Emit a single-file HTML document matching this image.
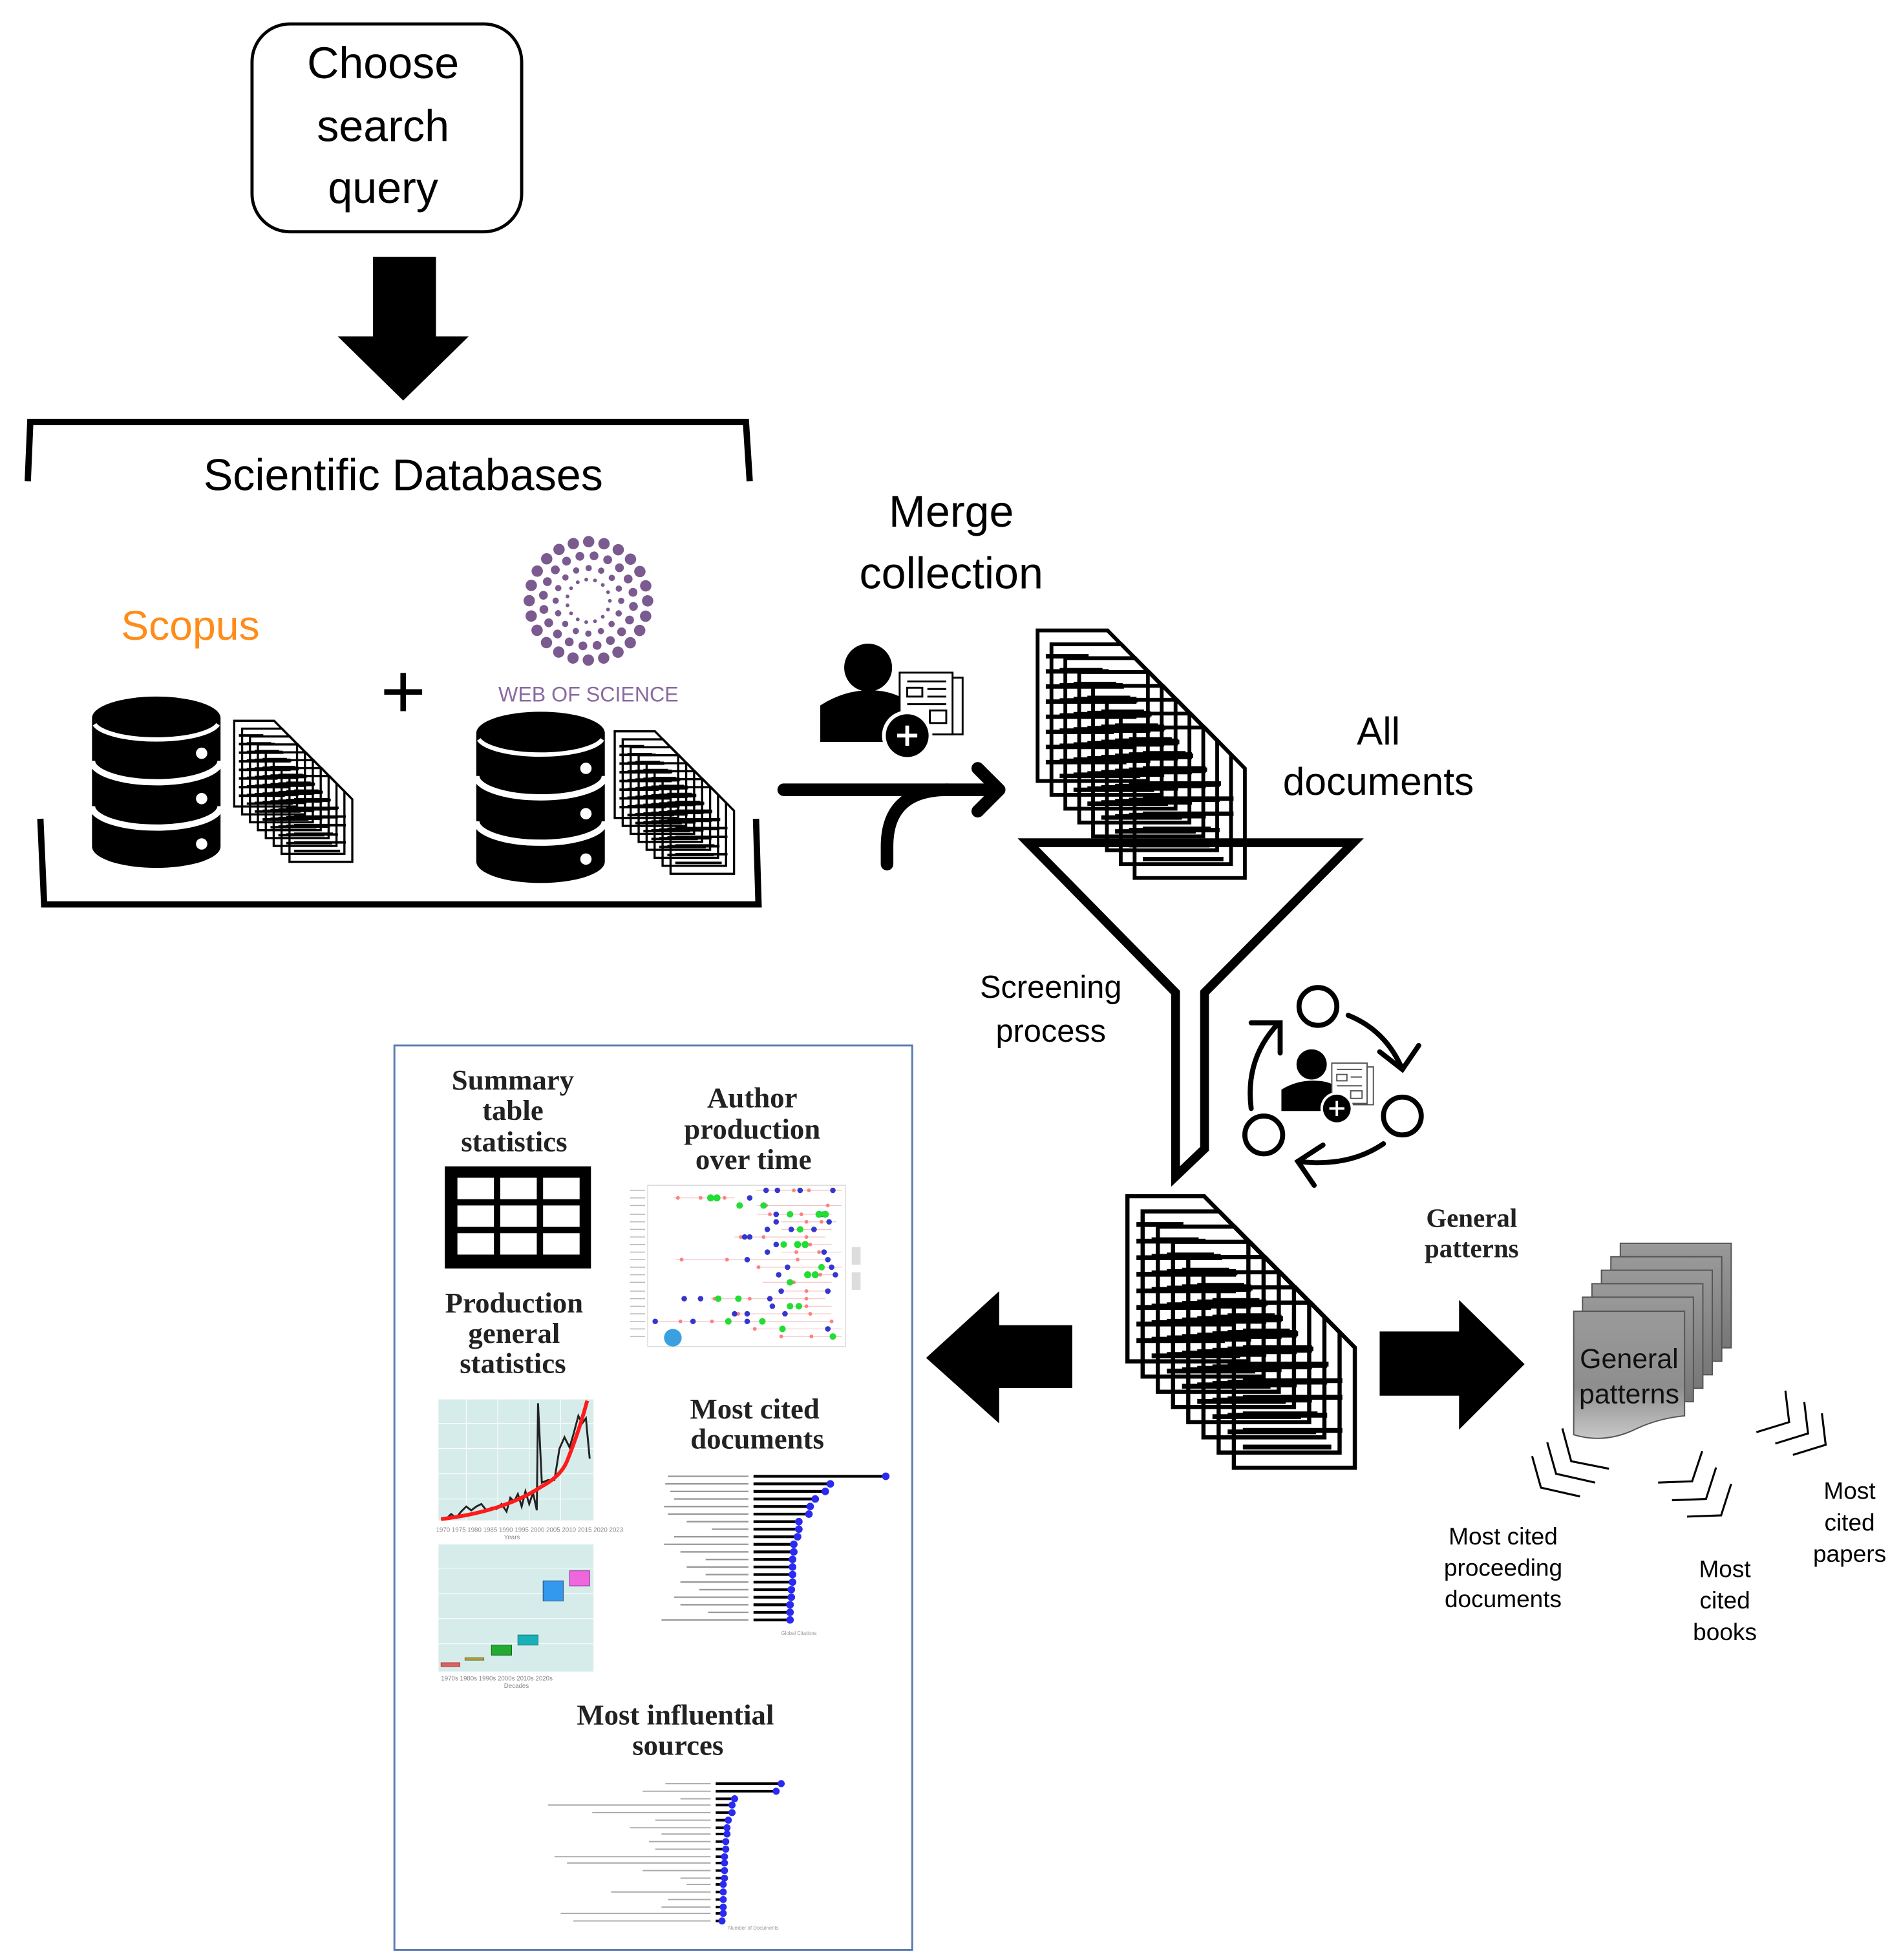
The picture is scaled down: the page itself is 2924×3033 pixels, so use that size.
<!DOCTYPE html>
<html><head><meta charset="utf-8"><style>
html,body{margin:0;padding:0;background:#fff;}
svg{display:block;}
.c{font-family:"Liberation Sans",sans-serif;}
.s{font-family:"Liberation Serif",serif;font-weight:bold;fill:#222;}
</style></head><body>
<svg width="2924" height="3033" viewBox="0 0 1500 1556" xmlns="http://www.w3.org/2000/svg">
<defs>
<symbol id="pg" viewBox="0 0 92 124" overflow="visible">
<path d="M1.5,1.5 H57 L89,34 V121 H1.5 Z" fill="none" stroke="#000" stroke-width="3"/>
<g stroke="#000" stroke-width="3.5">
<line x1="8" y1="22" x2="42" y2="22"/><line x1="8" y1="34" x2="58" y2="34"/>
<line x1="8" y1="46" x2="70" y2="46"/><line x1="8" y1="58" x2="80" y2="58"/>
<line x1="8" y1="70" x2="80" y2="70"/><line x1="8" y1="82" x2="62" y2="82"/>
<line x1="8" y1="94" x2="80" y2="94"/><line x1="8" y1="106" x2="72" y2="106"/>
</g></symbol>
<symbol id="stack" viewBox="0 0 172 206" overflow="visible">
<use href="#pg" x="0" y="0" width="92" height="124"/>
<use href="#pg" x="11" y="11" width="92" height="124"/>
<use href="#pg" x="22" y="22" width="92" height="124"/>
<use href="#pg" x="33" y="33" width="92" height="124"/>
<use href="#pg" x="44" y="44" width="92" height="124"/>
<use href="#pg" x="55" y="55" width="92" height="124"/>
<use href="#pg" x="66" y="66" width="92" height="124"/>
<use href="#pg" x="77" y="77" width="92" height="124"/>
</symbol>
<linearGradient id="gg" x1="0" y1="0" x2="0" y2="1"><stop offset="0" stop-color="#999"/><stop offset="1" stop-color="#777"/></linearGradient>
<linearGradient id="gf" x1="0" y1="0" x2="0" y2="1"><stop offset="0" stop-color="#9a9a9a"/><stop offset="0.6" stop-color="#8e8e8e"/><stop offset="1" stop-color="#c8c8c8"/></linearGradient>
</defs>

<rect x="200" y="19" width="214" height="165" rx="30" fill="#fff" stroke="#000" stroke-width="2.5"/>
<g class="c" font-size="35" text-anchor="middle" fill="#000">
<text x="304" y="62">Choose</text><text x="304" y="112">search</text><text x="304" y="161">query</text>
</g>
<polygon points="296,204 346,204 346,267 372,267 320,318 268,267 296,267" fill="#000"/>

<path d="M22,382 L24,335 L592,335 L595,382" fill="none" stroke="#000" stroke-width="5"/>
<path d="M32,650 L35,718 L602,718 L600,650" fill="none" stroke="#000" stroke-width="5"/>
<text class="c" x="320" y="389" font-size="35" text-anchor="middle">Scientific Databases</text>
<text class="c" x="96" y="508" font-size="33" fill="#ff8c1a">Scopus</text>
<text class="c" x="320" y="570" font-size="62" text-anchor="middle">+</text>

<g fill="none" stroke="#7b5a90" stroke-linecap="round">
<circle cx="467" cy="477" r="47" stroke-width="9" stroke-dasharray="0.01 12.3"/>
<circle cx="467" cy="477" r="36" stroke-width="7" stroke-dasharray="0.01 11.3" transform="rotate(7 467 477)"/>
<circle cx="467" cy="477" r="26" stroke-width="5" stroke-dasharray="0.01 10.2"/>
<circle cx="467" cy="477" r="17" stroke-width="3" stroke-dasharray="0.01 7.1"/>
</g>
<text x="467" y="557" font-family="Liberation Sans,sans-serif" font-size="16.5" fill="#8a6aa0" text-anchor="middle">WEB OF SCIENCE</text>

<g>
<path d="M73,570 A51,17 0 0 1 175,570 V672 A51,17 0 0 1 73,672 Z" fill="#000"/>
<path d="M75,575 A50,15 0 0 0 173,575" fill="none" stroke="#fff" stroke-width="3.5"/>
<path d="M73,604 A51,17 0 0 0 175,604" fill="none" stroke="#fff" stroke-width="5"/>
<path d="M73,640 A51,17 0 0 0 175,640" fill="none" stroke="#fff" stroke-width="5"/>
<circle cx="160" cy="598" r="4.5" fill="#fff"/><circle cx="160" cy="634" r="4.5" fill="#fff"/><circle cx="160" cy="670" r="4.5" fill="#fff"/>
</g>
<g transform="translate(305,12)">
<path d="M73,570 A51,17 0 0 1 175,570 V672 A51,17 0 0 1 73,672 Z" fill="#000"/>
<path d="M75,575 A50,15 0 0 0 173,575" fill="none" stroke="#fff" stroke-width="3.5"/>
<path d="M73,604 A51,17 0 0 0 175,604" fill="none" stroke="#fff" stroke-width="5"/>
<path d="M73,640 A51,17 0 0 0 175,640" fill="none" stroke="#fff" stroke-width="5"/>
<circle cx="160" cy="598" r="4.5" fill="#fff"/><circle cx="160" cy="634" r="4.5" fill="#fff"/><circle cx="160" cy="670" r="4.5" fill="#fff"/>
</g>
<use href="#stack" x="185" y="570" width="98" height="120"/>
<use href="#stack" x="487" y="578" width="99" height="122"/>

<g class="c" font-size="35" text-anchor="middle">
<text x="755" y="418">Merge</text><text x="755" y="467">collection</text>
</g>
<circle cx="689" cy="530" r="19" fill="#000"/>
<path d="M651,589 V560 Q670,548 690,548 Q705,548 716,554 L716,589 Z" fill="#000"/>
<rect x="722" y="538" width="42" height="45" fill="#fff" stroke="#000" stroke-width="1.5"/>
<rect x="714" y="534" width="42" height="49" fill="#fff" stroke="#000" stroke-width="1.5"/>
<g stroke="#000" stroke-width="1.5" fill="none"><line x1="720" y1="541" x2="751" y2="541"/><rect x="720" y="546" width="12" height="7"/><line x1="736" y1="547" x2="751" y2="547"/><line x1="736" y1="553" x2="751" y2="553"/><line x1="720" y1="559" x2="751" y2="559"/><rect x="738" y="564" width="13" height="10"/></g>
<circle cx="720" cy="584" r="20" fill="#fff"/>
<circle cx="720" cy="584" r="17" fill="#000"/>
<path d="M720,576 V592 M712,584 H728" stroke="#fff" stroke-width="3"/>
<g fill="none" stroke="#000" stroke-width="10" stroke-linecap="round">
<line x1="622" y1="627" x2="790" y2="627"/>
<path d="M776,610 L793,627 L776,644" stroke-linejoin="round"/>
<path d="M704,686 V672 Q704,627 752,627"/>
</g>

<use href="#stack" x="822" y="499" width="172" height="206"/>
<g class="c" font-size="31" text-anchor="middle"><text x="1094" y="591">All</text><text x="1094" y="631">documents</text></g>

<path d="M816,669 L1074,669 L956,788 L956,912 L933,934 L933,788 Z" fill="none" stroke="#000" stroke-width="7" stroke-linejoin="miter"/>
<g class="c" font-size="25" text-anchor="middle"><text x="834" y="792">Screening</text><text x="834" y="827">process</text></g>

<g fill="none" stroke="#000" stroke-width="4">
<circle cx="1046" cy="799" r="15"/><circle cx="1113" cy="886" r="15"/><circle cx="1003" cy="901" r="15"/>
<path d="M1070,806 Q1100,818 1113,849" stroke-linecap="round"/>
<path d="M1095,835 L1113,849 L1126,830" stroke-linecap="round"/>
<path d="M1098,908 Q1070,927 1030,922" stroke-linecap="round"/>
<path d="M1050,909 L1030,922 L1043,941" stroke-linecap="round"/>
<path d="M993,880 Q988,840 1015,812" stroke-linecap="round"/>
<path d="M993,812 L1016,812 L1016,836" stroke-linecap="round"/>
</g>
<circle cx="1041" cy="845" r="12" fill="#000"/>
<path d="M1017,882 V865 Q1030,857 1045,858 Q1052,858 1058,861 V882 Z" fill="#000"/>
<rect x="1062" y="847" width="28" height="30" fill="#fff" stroke="#555" stroke-width="1"/>
<rect x="1057" y="844" width="28" height="32" fill="#fff" stroke="#555" stroke-width="1"/>
<g stroke="#555" stroke-width="1" fill="none"><line x1="1061" y1="849" x2="1081" y2="849"/><rect x="1061" y="853" width="8" height="5"/><line x1="1072" y1="855" x2="1081" y2="855"/><line x1="1061" y1="862" x2="1081" y2="862"/><rect x="1072" y="866" width="9" height="6"/></g>
<circle cx="1061" cy="880" r="13" fill="#fff"/><circle cx="1061" cy="880" r="11" fill="#000"/>
<path d="M1061,874 V886 M1055,880 H1067" stroke="#fff" stroke-width="2"/>

<use href="#stack" x="893" y="948" width="189" height="226"/>

<polygon points="851,1052 851,1102 793,1102 793,1130 735,1078 793,1025 793,1052" fill="#000"/>
<polygon points="1095,1057 1158,1057 1158,1032 1210,1083 1158,1135 1158,1108 1095,1108" fill="#000"/>
<g class="s" font-size="21" text-anchor="middle" fill="#333"><text x="1168" y="974">General</text><text x="1168" y="998">patterns</text></g>

<g stroke="#555" stroke-width="1" fill="url(#gg)">
<rect x="1286" y="987" width="88" height="83"/>
<rect x="1278.5" y="997.7" width="88" height="83"/>
<rect x="1271" y="1008.4" width="88" height="83"/>
<rect x="1263.5" y="1019.1" width="88" height="83"/>
<rect x="1256" y="1029.8" width="88" height="83"/>
<path d="M1249,1041 H1337 V1124 Q1315,1126 1295,1136 Q1272,1146 1249,1139 Z" fill="url(#gf)"/>
</g>
<g class="c" font-size="22" text-anchor="middle" fill="#111"><text x="1293" y="1086">General</text><text x="1293" y="1114">patterns</text></g>

<g fill="none" stroke="#000" stroke-width="1.6">
<path d="M1240,1134 L1247,1160 L1277,1166"/><path d="M1228,1145 L1235,1170 L1266,1177"/><path d="M1216,1156 L1223,1181 L1254,1188"/>
<path d="M1351,1152 L1343,1176 L1316,1177"/><path d="M1362,1165 L1354,1190 L1327,1191"/><path d="M1374,1178 L1366,1203 L1339,1204"/>
<path d="M1417,1104 L1420,1129 L1394,1137"/><path d="M1432,1113 L1435,1138 L1409,1146"/><path d="M1446,1122 L1449,1147 L1423,1155"/>
</g>
<g class="c" font-size="19" text-anchor="middle">
<text x="1193" y="1226">Most cited</text><text x="1193" y="1251">proceeding</text><text x="1193" y="1276">documents</text>
<text x="1369" y="1252">Most</text><text x="1369" y="1277">cited</text><text x="1369" y="1302">books</text>
<text x="1468" y="1190">Most</text><text x="1468" y="1215">cited</text><text x="1468" y="1240">papers</text>
</g>

<rect x="313" y="830" width="411" height="718" fill="#fff" stroke="#5a7bb0" stroke-width="1.5"/>
<g class="s" font-size="23" text-anchor="middle">
<text x="407" y="865">Summary</text><text x="407" y="889">table</text><text x="408" y="914">statistics</text>
<text x="597" y="879">Author</text><text x="597" y="904">production</text><text x="598" y="928">over time</text>
<text x="408" y="1042">Production</text><text x="408" y="1066">general</text><text x="407" y="1090">statistics</text>
<text x="599" y="1126">Most cited</text><text x="601" y="1150">documents</text>
<text x="536" y="1369">Most influential</text><text x="538" y="1393">sources</text>
</g>
<rect x="353" y="926" width="116" height="81" fill="#000"/>
<g fill="#fff">
<rect x="363" y="935" width="29" height="17"/><rect x="397" y="935" width="29" height="17"/><rect x="431" y="935" width="29" height="17"/>
<rect x="363" y="957" width="29" height="17"/><rect x="397" y="957" width="29" height="17"/><rect x="431" y="957" width="29" height="17"/>
<rect x="363" y="979" width="29" height="17"/><rect x="397" y="979" width="29" height="17"/><rect x="431" y="979" width="29" height="17"/>
</g>

<rect x="514" y="941" width="157" height="128" fill="none" stroke="#ddd" stroke-width="0.8"/>
<g stroke="#f3c4c4" stroke-width="0.6">
<line x1="600" y1="945" x2="668" y2="945"/><line x1="534" y1="951" x2="583" y2="951"/><line x1="601" y1="957" x2="668" y2="957"/><line x1="601" y1="964" x2="660" y2="964"/><line x1="620" y1="970" x2="664" y2="970"/><line x1="620" y1="976" x2="660" y2="976"/><line x1="583" y1="982" x2="655" y2="982"/><line x1="630" y1="988" x2="660" y2="988"/><line x1="620" y1="994" x2="668" y2="994"/><line x1="536" y1="1000" x2="660" y2="1000"/><line x1="600" y1="1006" x2="668" y2="1006"/><line x1="640" y1="1012" x2="664" y2="1012"/><line x1="605" y1="1018" x2="660" y2="1018"/><line x1="620" y1="1025" x2="660" y2="1025"/><line x1="564" y1="1031" x2="655" y2="1031"/><line x1="630" y1="1037" x2="660" y2="1037"/><line x1="588" y1="1043" x2="660" y2="1043"/><line x1="520" y1="1049" x2="660" y2="1049"/><line x1="595" y1="1055" x2="668" y2="1055"/><line x1="620" y1="1061" x2="668" y2="1061"/>
</g>
<g fill="#ff8080">
<circle cx="630" cy="945" r="1.5"/><circle cx="642" cy="945" r="1.5"/><circle cx="538" cy="951" r="1.5"/><circle cx="556" cy="951" r="1.5"/><circle cx="575" cy="951" r="1.5"/><circle cx="608" cy="957" r="1.5"/><circle cx="657" cy="957" r="1.5"/><circle cx="611" cy="964" r="1.5"/><circle cx="636" cy="964" r="1.5"/><circle cx="640" cy="970" r="1.5"/><circle cx="652" cy="970" r="1.5"/><circle cx="647" cy="976" r="1.5"/><circle cx="588" cy="982" r="1.5"/><circle cx="606" cy="982" r="1.5"/><circle cx="640" cy="982" r="1.5"/><circle cx="643" cy="988" r="1.5"/><circle cx="632" cy="994" r="1.5"/><circle cx="650" cy="994" r="1.5"/><circle cx="541" cy="1000" r="1.5"/><circle cx="577" cy="1000" r="1.5"/><circle cx="633" cy="1000" r="1.5"/><circle cx="602" cy="1006" r="1.5"/><circle cx="660" cy="1006" r="1.5"/><circle cx="651" cy="1012" r="1.5"/><circle cx="630" cy="1018" r="1.5"/><circle cx="620" cy="1025" r="1.5"/><circle cx="640" cy="1025" r="1.5"/><circle cx="567" cy="1031" r="1.5"/><circle cx="595" cy="1031" r="1.5"/><circle cx="640" cy="1031" r="1.5"/><circle cx="640" cy="1037" r="1.5"/><circle cx="586" cy="1043" r="1.5"/><circle cx="643" cy="1043" r="1.5"/><circle cx="540" cy="1049" r="1.5"/><circle cx="565" cy="1049" r="1.5"/><circle cx="660" cy="1049" r="1.5"/><circle cx="599" cy="1055" r="1.5"/><circle cx="620" cy="1061" r="1.5"/><circle cx="644" cy="1061" r="1.5"/>
</g>
<g fill="#3535d0">
<circle cx="608" cy="945" r="2.2"/><circle cx="617" cy="945" r="2.2"/><circle cx="635" cy="945" r="2.2"/><circle cx="661" cy="945" r="2.2"/><circle cx="595" cy="951" r="2.2"/><circle cx="616" cy="964" r="2.2"/><circle cx="653" cy="964" r="2.2"/><circle cx="616" cy="970" r="2.2"/><circle cx="658" cy="970" r="2.2"/><circle cx="609" cy="976" r="2.2"/><circle cx="628" cy="976" r="2.2"/><circle cx="646" cy="976" r="2.2"/><circle cx="591" cy="982" r="2.2"/><circle cx="595" cy="982" r="2.2"/><circle cx="616" cy="988" r="2.2"/><circle cx="609" cy="994" r="2.2"/><circle cx="654" cy="994" r="2.2"/><circle cx="593" cy="1000" r="2.2"/><circle cx="657" cy="1000" r="2.2"/><circle cx="625" cy="1006" r="2.2"/><circle cx="660" cy="1006" r="2.2"/><circle cx="618" cy="1012" r="2.2"/><circle cx="663" cy="1012" r="2.2"/><circle cx="620" cy="1025" r="2.2"/><circle cx="657" cy="1025" r="2.2"/><circle cx="543" cy="1031" r="2.2"/><circle cx="556" cy="1031" r="2.2"/><circle cx="611" cy="1031" r="2.2"/><circle cx="613" cy="1037" r="2.2"/><circle cx="583" cy="1043" r="2.2"/><circle cx="593" cy="1043" r="2.2"/><circle cx="623" cy="1043" r="2.2"/><circle cx="520" cy="1049" r="2.2"/><circle cx="550" cy="1049" r="2.2"/><circle cx="593" cy="1049" r="2.2"/><circle cx="657" cy="1055" r="2.2"/>
</g>
<g fill="#22dd33">
<circle cx="564" cy="951" r="2.8"/><circle cx="569" cy="951" r="2.8"/><circle cx="587" cy="957" r="2.6"/><circle cx="606" cy="957" r="2.6"/><circle cx="627" cy="964" r="2.6"/><circle cx="655" cy="964" r="2.8"/><circle cx="650" cy="964" r="2.8"/><circle cx="635" cy="976" r="2.6"/><circle cx="622" cy="988" r="2.6"/><circle cx="633" cy="988" r="2.8"/><circle cx="639" cy="988" r="2.8"/><circle cx="652" cy="1006" r="2.6"/><circle cx="641" cy="1012" r="2.8"/><circle cx="647" cy="1012" r="2.8"/><circle cx="627" cy="1018" r="2.6"/><circle cx="570" cy="1031" r="2.6"/><circle cx="586" cy="1031" r="2.6"/><circle cx="627" cy="1037" r="2.6"/><circle cx="634" cy="1037" r="2.6"/><circle cx="578" cy="1049" r="2.6"/><circle cx="605" cy="1049" r="2.6"/><circle cx="621" cy="1055" r="2.6"/><circle cx="661" cy="1061" r="2.6"/>
</g>
<g stroke="#bbb" stroke-width="0.8"><path d="M500,945 H512 M500,951 H512 M500,957 H512 M500,964 H512 M500,970 H512 M500,976 H512 M500,982 H512 M500,988 H512 M500,994 H512 M500,1000 H512 M500,1006 H512 M500,1012 H512 M500,1018 H512 M500,1025 H512 M500,1031 H512 M500,1037 H512 M500,1043 H512 M500,1049 H512 M500,1055 H512 M500,1061 H512"/></g>
<circle cx="534" cy="1062" r="7" fill="#3aa0e0"/>
<g fill="#ddd"><rect x="676" y="990" width="7" height="14"/><rect x="676" y="1010" width="7" height="14"/></g>

<rect x="348" y="1111" width="123" height="96" fill="#d6eceb"/>
<g stroke="#fff" stroke-width="0.5"><path d="M348,1130 H471 M348,1150 H471 M348,1170 H471 M348,1190 H471 M370,1111 V1207 M395,1111 V1207 M420,1111 V1207 M445,1111 V1207"/></g>
<polyline fill="none" stroke="#222" stroke-width="1.5" points="350,1206 355,1205 358,1202 362,1205 366,1200 370,1196 374,1199 378,1196 382,1194 386,1199 390,1197 394,1198 398,1194 402,1200 405,1189 408,1192 411,1186 414,1196 417,1184 420,1194 423,1185 426,1199 427,1114 430,1177 435,1175 440,1175 444,1150 448,1141 452,1149 455,1139 459,1124 462,1130 465,1126 468,1158"/>
<path d="M350,1206 Q400,1200 430,1180 Q445,1172 450,1160 Q460,1135 466,1112" fill="none" stroke="#ff1a1a" stroke-width="3"/>
<g fill="#888" font-size="5" font-family="Liberation Sans,sans-serif"><text x="346" y="1216">1970 1975 1980 1985 1990 1995 2000 2005 2010 2015 2020 2023</text><text x="400" y="1222">Years</text></g>
<rect x="348" y="1226" width="123" height="101" fill="#d6eceb"/>
<g stroke="#fff" stroke-width="0.5"><path d="M348,1245 H471 M348,1265 H471 M348,1285 H471 M348,1305 H471"/></g>
<rect x="350" y="1320" width="15" height="3" fill="#e06060" stroke="#a33" stroke-width="0.5"/>
<rect x="369" y="1316" width="15" height="2" fill="#b5a030" stroke="#663" stroke-width="0.5"/>
<rect x="390" y="1306" width="16" height="8" fill="#22aa33" stroke="#161" stroke-width="0.5"/>
<rect x="411" y="1298" width="16" height="8" fill="#1ab0b8" stroke="#177" stroke-width="0.5"/>
<rect x="431" y="1255" width="16" height="16" fill="#3399ee" stroke="#247" stroke-width="0.5"/>
<rect x="452" y="1247" width="16" height="12" fill="#f066dd" stroke="#839" stroke-width="0.5"/>
<g fill="#888" font-size="5" font-family="Liberation Sans,sans-serif"><text x="350" y="1334">1970s   1980s   1990s   2000s   2010s   2020s</text><text x="400" y="1340">Decades</text></g>

<g stroke="#000" stroke-width="2.2">
<line x1="598" y1="1172" x2="703" y2="1172"/><line x1="598" y1="1178" x2="659" y2="1178"/><line x1="598" y1="1184" x2="655" y2="1184"/><line x1="598" y1="1190" x2="647" y2="1190"/><line x1="598" y1="1196" x2="643" y2="1196"/><line x1="598" y1="1202" x2="642" y2="1202"/><line x1="598" y1="1208" x2="634" y2="1208"/><line x1="598" y1="1214" x2="634" y2="1214"/><line x1="598" y1="1220" x2="633" y2="1220"/><line x1="598" y1="1226" x2="630" y2="1226"/><line x1="598" y1="1232" x2="630" y2="1232"/><line x1="598" y1="1238" x2="629" y2="1238"/><line x1="598" y1="1244" x2="629" y2="1244"/><line x1="598" y1="1250" x2="629" y2="1250"/><line x1="598" y1="1256" x2="629" y2="1256"/><line x1="598" y1="1262" x2="628" y2="1262"/><line x1="598" y1="1268" x2="628" y2="1268"/><line x1="598" y1="1274" x2="627" y2="1274"/><line x1="598" y1="1280" x2="627" y2="1280"/><line x1="598" y1="1286" x2="627" y2="1286"/>
</g>
<g fill="#2a2af0">
<circle cx="703" cy="1172" r="3"/><circle cx="659" cy="1178" r="3"/><circle cx="655" cy="1184" r="3"/><circle cx="647" cy="1190" r="3"/><circle cx="643" cy="1196" r="3"/><circle cx="642" cy="1202" r="3"/><circle cx="634" cy="1208" r="3"/><circle cx="634" cy="1214" r="3"/><circle cx="633" cy="1220" r="3"/><circle cx="630" cy="1226" r="3"/><circle cx="630" cy="1232" r="3"/><circle cx="629" cy="1238" r="3"/><circle cx="629" cy="1244" r="3"/><circle cx="629" cy="1250" r="3"/><circle cx="629" cy="1256" r="3"/><circle cx="628" cy="1262" r="3"/><circle cx="628" cy="1268" r="3"/><circle cx="627" cy="1274" r="3"/><circle cx="627" cy="1280" r="3"/><circle cx="627" cy="1286" r="3"/>
</g>
<g stroke="#999" stroke-width="1.2"><path d="M530,1172 H594 M528,1178 H594 M532,1184 H594 M535,1190 H594 M527,1196 H594 M530,1202 H594 M545,1208 H594 M565,1214 H594 M535,1220 H594 M527,1226 H594 M540,1232 H594 M560,1238 H594 M545,1244 H594 M560,1250 H594 M540,1256 H594 M555,1262 H594 M535,1268 H594 M540,1274 H594 M562,1280 H594 M525,1286 H594"/></g>
<g fill="#999" font-size="4" font-family="Liberation Sans,sans-serif"><text x="620" y="1298">Global Citations</text></g>

<g stroke="#000" stroke-width="2">
<line x1="568" y1="1416" x2="620" y2="1416"/><line x1="568" y1="1422" x2="616" y2="1422"/><line x1="568" y1="1428" x2="583" y2="1428"/><line x1="568" y1="1433" x2="581" y2="1433"/><line x1="568" y1="1439" x2="581" y2="1439"/><line x1="568" y1="1445" x2="578" y2="1445"/><line x1="568" y1="1451" x2="577" y2="1451"/><line x1="568" y1="1456" x2="577" y2="1456"/><line x1="568" y1="1462" x2="576" y2="1462"/><line x1="568" y1="1468" x2="576" y2="1468"/><line x1="568" y1="1474" x2="575" y2="1474"/><line x1="568" y1="1479" x2="575" y2="1479"/><line x1="568" y1="1485" x2="575" y2="1485"/><line x1="568" y1="1491" x2="575" y2="1491"/><line x1="568" y1="1496" x2="574" y2="1496"/><line x1="568" y1="1502" x2="574" y2="1502"/><line x1="568" y1="1508" x2="574" y2="1508"/><line x1="568" y1="1514" x2="574" y2="1514"/><line x1="568" y1="1519" x2="574" y2="1519"/><line x1="568" y1="1525" x2="573" y2="1525"/>
</g>
<g fill="#2a2af0">
<circle cx="620" cy="1416" r="2.8"/><circle cx="616" cy="1422" r="2.8"/><circle cx="583" cy="1428" r="2.8"/><circle cx="581" cy="1433" r="2.8"/><circle cx="581" cy="1439" r="2.8"/><circle cx="578" cy="1445" r="2.8"/><circle cx="577" cy="1451" r="2.8"/><circle cx="577" cy="1456" r="2.8"/><circle cx="576" cy="1462" r="2.8"/><circle cx="576" cy="1468" r="2.8"/><circle cx="575" cy="1474" r="2.8"/><circle cx="575" cy="1479" r="2.8"/><circle cx="575" cy="1485" r="2.8"/><circle cx="575" cy="1491" r="2.8"/><circle cx="574" cy="1496" r="2.8"/><circle cx="574" cy="1502" r="2.8"/><circle cx="574" cy="1508" r="2.8"/><circle cx="574" cy="1514" r="2.8"/><circle cx="574" cy="1519" r="2.8"/><circle cx="573" cy="1525" r="2.8"/>
</g>
<g stroke="#aaa" stroke-width="1"><path d="M528,1416 H564 M510,1422 H564 M540,1428 H564 M435,1433 H564 M470,1439 H564 M520,1445 H564 M500,1451 H564 M525,1456 H564 M515,1462 H564 M520,1468 H564 M440,1474 H564 M450,1479 H564 M510,1485 H564 M540,1491 H564 M545,1496 H564 M485,1502 H564 M530,1508 H564 M525,1514 H564 M445,1519 H564 M455,1525 H564"/></g>
<g fill="#999" font-size="4" font-family="Liberation Sans,sans-serif"><text x="578" y="1532">Number of Documents</text></g>
</svg>
</body></html>
